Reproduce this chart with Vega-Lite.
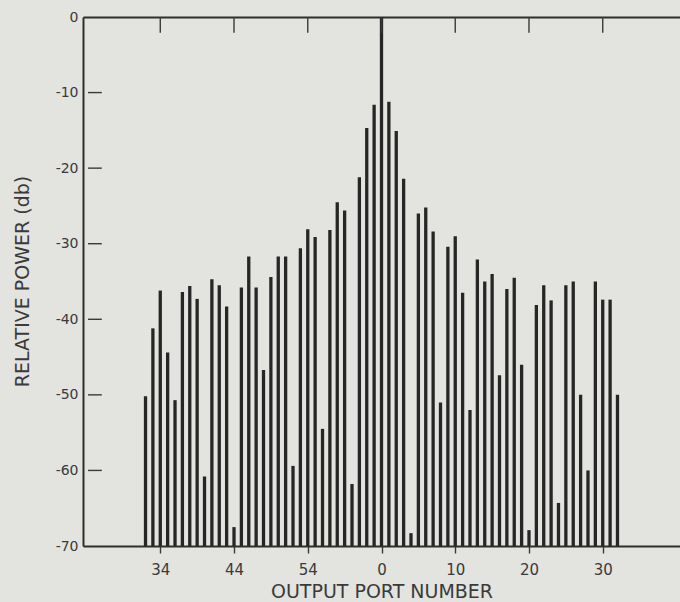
{
  "$schema": "https://vega.github.io/schema/vega-lite/v6.json",
  "width": 597,
  "height": 529,
  "autosize": {"type": "none"},
  "padding": {"left": 83, "top": 17, "right": 0, "bottom": 56},
  "background": "#e3e3e0",
  "config": {
    "view": {"stroke": null},
    "font": "DejaVu Sans",
    "axis": {
      "domainColor": "#2e2e2e",
      "domainWidth": 2,
      "tickColor": "#3a3a3a",
      "tickWidth": 1.4,
      "labelColor": "#3a3a3a",
      "titleColor": "#3a3a3a",
      "labelFont": "DejaVu Sans",
      "titleFont": "DejaVu Sans",
      "titleFontWeight": "normal",
      "grid": false
    }
  },
  "data": {
    "values": [
      {"pos": -32, "port": 32, "db": -50.2},
      {"pos": -31, "port": 33, "db": -41.2},
      {"pos": -30, "port": 34, "db": -36.2},
      {"pos": -29, "port": 35, "db": -44.4},
      {"pos": -28, "port": 36, "db": -50.7},
      {"pos": -27, "port": 37, "db": -36.4},
      {"pos": -26, "port": 38, "db": -35.6},
      {"pos": -25, "port": 39, "db": -37.3},
      {"pos": -24, "port": 40, "db": -60.8},
      {"pos": -23, "port": 41, "db": -34.7},
      {"pos": -22, "port": 42, "db": -35.5},
      {"pos": -21, "port": 43, "db": -38.3},
      {"pos": -20, "port": 44, "db": -67.5},
      {"pos": -19, "port": 45, "db": -35.8},
      {"pos": -18, "port": 46, "db": -31.7},
      {"pos": -17, "port": 47, "db": -35.8},
      {"pos": -16, "port": 48, "db": -46.7},
      {"pos": -15, "port": 49, "db": -34.4},
      {"pos": -14, "port": 50, "db": -31.7},
      {"pos": -13, "port": 51, "db": -31.7},
      {"pos": -12, "port": 52, "db": -59.4},
      {"pos": -11, "port": 53, "db": -30.6},
      {"pos": -10, "port": 54, "db": -28.1},
      {"pos": -9, "port": 55, "db": -29.1},
      {"pos": -8, "port": 56, "db": -54.5},
      {"pos": -7, "port": 57, "db": -28.2},
      {"pos": -6, "port": 58, "db": -24.5},
      {"pos": -5, "port": 59, "db": -25.6},
      {"pos": -4, "port": 60, "db": -61.8},
      {"pos": -3, "port": 61, "db": -21.2},
      {"pos": -2, "port": 62, "db": -14.7},
      {"pos": -1, "port": 63, "db": -11.6},
      {"pos": 0, "port": 0, "db": 0},
      {"pos": 1, "port": 1, "db": -11.2},
      {"pos": 2, "port": 2, "db": -15.1},
      {"pos": 3, "port": 3, "db": -21.4},
      {"pos": 4, "port": 4, "db": -68.3},
      {"pos": 5, "port": 5, "db": -26.0},
      {"pos": 6, "port": 6, "db": -25.2},
      {"pos": 7, "port": 7, "db": -28.4},
      {"pos": 8, "port": 8, "db": -51.0},
      {"pos": 9, "port": 9, "db": -30.4},
      {"pos": 10, "port": 10, "db": -29.0},
      {"pos": 11, "port": 11, "db": -36.5},
      {"pos": 12, "port": 12, "db": -52.0},
      {"pos": 13, "port": 13, "db": -32.1},
      {"pos": 14, "port": 14, "db": -35.0},
      {"pos": 15, "port": 15, "db": -34.0},
      {"pos": 16, "port": 16, "db": -47.4},
      {"pos": 17, "port": 17, "db": -36.0},
      {"pos": 18, "port": 18, "db": -34.5},
      {"pos": 19, "port": 19, "db": -46.0},
      {"pos": 20, "port": 20, "db": -67.9},
      {"pos": 21, "port": 21, "db": -38.1},
      {"pos": 22, "port": 22, "db": -35.5},
      {"pos": 23, "port": 23, "db": -37.5},
      {"pos": 24, "port": 24, "db": -64.3},
      {"pos": 25, "port": 25, "db": -35.5},
      {"pos": 26, "port": 26, "db": -35.0},
      {"pos": 27, "port": 27, "db": -50.0},
      {"pos": 28, "port": 28, "db": -60.0},
      {"pos": 29, "port": 29, "db": -35.0},
      {"pos": 30, "port": 30, "db": -37.4},
      {"pos": 31, "port": 31, "db": -37.4},
      {"pos": 32, "port": 32, "db": -50.0}
    ]
  },
  "layer": [
    {
      "mark": {"type": "bar", "width": 3.3, "color": "#262626"},
      "encoding": {
        "x": {
          "field": "pos",
          "type": "quantitative",
          "scale": {"domain": [-39.8, 39.8], "nice": false, "zero": false},
          "axis": {
            "orient": "bottom",
            "values": [-30, -20, -10, 0, 10, 20, 30],
            "labelExpr": "datum.value < 0 ? '' + (datum.value + 64) : '' + datum.value",
            "tickSize": 7,
            "labelPadding": 9,
            "labelFontSize": 15,
            "title": "OUTPUT PORT NUMBER",
            "titleFontSize": 19,
            "titleX": 298.5,
            "titleY": 45,
            "titleAlign": "center",
            "titleBaseline": "middle"
          }
        },
        "y": {
          "field": "db",
          "type": "quantitative",
          "scale": {"domain": [-70, 0], "nice": false, "zero": false},
          "axis": {
            "values": [0, -10, -20, -30, -40, -50, -60, -70],
            "labelExpr": "'' + datum.value",
            "ticks": false,
            "labelPadding": 5,
            "labelFontSize": 14,
            "title": "RELATIVE POWER (db)",
            "titleFontSize": 19,
            "titleAngle": -90,
            "titleX": -61,
            "titleY": 264,
            "titleAlign": "center",
            "titleBaseline": "middle"
          }
        },
        "y2": {"datum": -70}
      }
    },
    {
      "mark": {"type": "point", "opacity": 0},
      "encoding": {
        "x": {
          "field": "pos",
          "type": "quantitative",
          "axis": {"orient": "top", "ticks": false, "labels": false, "title": null}
        },
        "y": {"field": "db", "type": "quantitative", "axis": null}
      }
    },
    {
      "data": {
        "values": [
          {"tick": -10}, {"tick": -20}, {"tick": -30},
          {"tick": -40}, {"tick": -50}, {"tick": -60}
        ]
      },
      "mark": {"type": "rule", "color": "#3a3a3a", "strokeWidth": 1.4},
      "encoding": {
        "y": {"field": "tick", "type": "quantitative", "axis": null},
        "x": {"datum": -39.8, "type": "quantitative", "axis": null},
        "x2": {"datum": -37.93}
      }
    },
    {
      "data": {
        "values": [
          {"tick": -30}, {"tick": -20}, {"tick": -10}, {"tick": 0},
          {"tick": 10}, {"tick": 20}, {"tick": 30}
        ]
      },
      "mark": {"type": "rule", "color": "#3a3a3a", "strokeWidth": 1.4},
      "encoding": {
        "x": {"field": "tick", "type": "quantitative", "axis": null},
        "y": {"datum": 0, "type": "quantitative", "axis": null},
        "y2": {"datum": -2.1}
      }
    }
  ],
  "resolve": {"axis": {"x": "independent", "y": "independent"}}
}
